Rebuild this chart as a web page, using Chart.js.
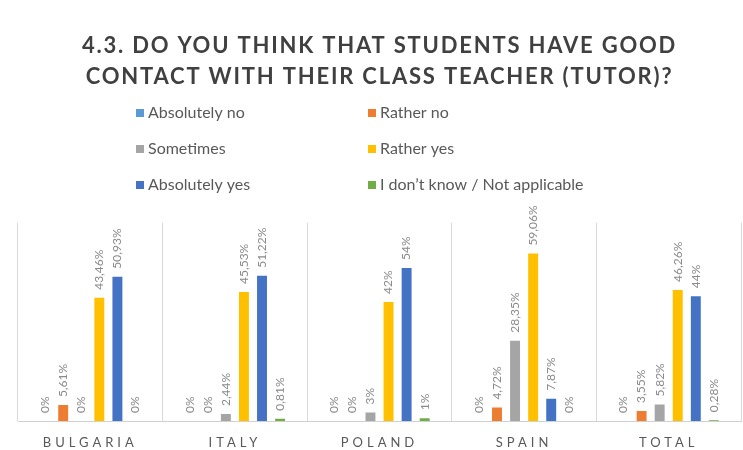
<!DOCTYPE html>
<html>
<head>
<meta charset="utf-8">
<script src="https://cdn.jsdelivr.net/npm/chart.js@4.4.1/dist/chart.umd.min.js"></script>
<style>
  html, body { margin: 0; padding: 0; background: #ffffff; }
  #wrap { width: 743px; height: 450px; }
</style>
</head>
<body>
<div id="wrap"><canvas id="c" width="743" height="450"></canvas></div>
<script>
const titleLines = ['4.3. DO YOU THINK THAT STUDENTS HAVE GOOD', 'CONTACT WITH THEIR CLASS TEACHER (TUTOR)?'];
const categories = ['BULGARIA', 'ITALY', 'POLAND', 'SPAIN', 'TOTAL'];
const seriesNames = ['Absolutely no', 'Rather no', 'Sometimes', 'Rather yes', 'Absolutely yes', 'I don\u2019t know / Not applicable'];
const absolutelyNo  = [0, 0, 0, 0, 0];
const ratherNo      = [5.61, 0, 0, 4.72, 3.55];
const sometimes     = [0, 2.44, 3, 28.35, 5.82];
const ratherYes     = [43.46, 45.53, 42, 59.06, 46.26];
const absolutelyYes = [50.93, 51.22, 54, 7.87, 44];
const dontKnow      = [0, 0.81, 1, 0, 0.28];
const seriesColors  = ['#5B9BD5', '#ED7D31', '#A5A5A5', '#FFC000', '#4472C4', '#70AD47'];

const seriesValues = [absolutelyNo, ratherNo, sometimes, ratherYes, absolutelyYes, dontKnow];

function fmt(v) { return String(v).replace('.', ',') + '%'; }

const styling = {
  id: 'styling',
  beforeDraw(chart) { chart.ctx.letterSpacing = '1.8px'; },
  beforeDatasetsDraw(chart) { chart.ctx.letterSpacing = '0px'; },
  afterDatasetsDraw(chart) {
    const ctx = chart.ctx;
    ctx.save();
    ctx.letterSpacing = '0px';
    ctx.font = '12px Lato';
    ctx.fillStyle = '#8a8a8a';
    ctx.textAlign = 'left';
    ctx.textBaseline = 'middle';
    chart.data.datasets.forEach((ds, i) => {
      const meta = chart.getDatasetMeta(i);
      meta.data.forEach((bar, j) => {
        ctx.save();
        ctx.translate(bar.x, bar.y - 8);
        ctx.rotate(-Math.PI / 2);
        ctx.fillText(fmt(ds.data[j]), 0, 0);
        ctx.restore();
      });
    });
    ctx.restore();
    ctx.letterSpacing = '4px';
  },
  afterDraw(chart) {
    const ctx = chart.ctx;
    ctx.save();
    ctx.letterSpacing = '0px';
    ctx.font = '16px Lato';
    ctx.textBaseline = 'middle';
    ctx.textAlign = 'left';
    const colX = [136, 368];
    const rowY = [113, 149, 185];
    chart.data.datasets.forEach((ds, i) => {
      const x = colX[i % 2];
      const y = rowY[Math.floor(i / 2)];
      ctx.fillStyle = ds.backgroundColor;
      ctx.fillRect(x, y - 4, 8, 8);
      ctx.fillStyle = '#595959';
      ctx.fillText(ds.label, x + 12, y);
    });
    ctx.restore();
  }
};

new Chart(document.getElementById('c'), {
  type: 'bar',
  data: {
    labels: categories,
    datasets: seriesNames.map((name, i) => ({
      label: name,
      data: seriesValues[i],
      backgroundColor: seriesColors[i],
      categoryPercentage: 0.75,
      barPercentage: 0.55
    }))
  },
  options: {
    responsive: false,
    animation: false,
    layout: { padding: { left: 18, right: 2, top: 0, bottom: 0 } },
    plugins: {
      legend: { display: false },
      tooltip: { enabled: false },
      title: {
        display: true,
        text: titleLines,
        color: '#404040',
        font: { family: 'Lato', size: 22, weight: 'bold', lineHeight: 1.4 },
        padding: { top: 31, bottom: 130 }
      }
    },
    scales: {
      x: {
        grid: { display: true, color: '#d9d9d9', drawTicks: false, offset: true },
        border: { display: true, color: '#d0d0d0' },
        ticks: {
          z: 1,
          color: '#595959',
          font: { family: 'Lato', size: 13 },
          padding: 14,
          autoSkip: false,
          maxRotation: 0
        },
        afterFit(scale) { scale.height = 29; }
      },
      y: {
        display: false,
        min: 0,
        max: 70
      }
    }
  },
  plugins: [styling]
});
</script>
</body>
</html>
